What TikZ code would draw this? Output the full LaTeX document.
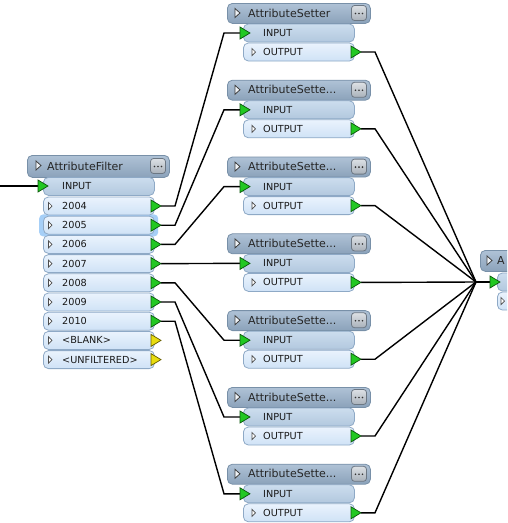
\documentclass[tikz,border=0pt]{standalone}
\usepackage{fontspec}
\setmainfont{DejaVu Sans}
\usetikzlibrary{calc}
\definecolor{hdrtop}{HTML}{AFC2D6}
\definecolor{hdrbot}{HTML}{8BA2BA}
\definecolor{hdrline}{HTML}{7890A8}
\definecolor{intop}{HTML}{CCDDEE}
\definecolor{inbot}{HTML}{B2C8DE}
\definecolor{outtop}{HTML}{EAF3FD}
\definecolor{outbot}{HTML}{CFE2F6}
\definecolor{rowline}{HTML}{8EA9C6}
\definecolor{btntop}{HTML}{DDE1E5}
\definecolor{btnbot}{HTML}{A9B1BA}
\definecolor{btnline}{HTML}{6C7783}
\definecolor{portgreen}{HTML}{22C822}
\definecolor{portdark}{HTML}{0E5A0E}
\definecolor{portyellow}{HTML}{E8DC10}
\definecolor{portydark}{HTML}{6A6000}
\definecolor{selblue}{HTML}{A6CFF7}
\tikzset{
  hdrbox/.style={draw=hdrline, line width=0.8pt, rounded corners=5pt, top color=hdrtop, bottom color=hdrbot, inner sep=0pt},
  inbox/.style={draw=rowline, line width=0.8pt, rounded corners=5pt, top color=intop, bottom color=inbot, inner sep=0pt},
  outbox/.style={draw=rowline, line width=0.8pt, rounded corners=5pt, top color=outtop, bottom color=outbot, inner sep=0pt},
  btnbox/.style={draw=btnline, line width=0.8pt, rounded corners=3pt, top color=btntop, bottom color=btnbot, inner sep=0pt, minimum width=15pt, minimum height=15pt},
  selbox/.style={fill=selblue, rounded corners=4pt, inner sep=0pt},
  wire/.style={draw=black, line width=1.4pt},
  hdrtxt/.style={anchor=west, font=\fontsize{11}{13}\selectfont, inner sep=0pt, text=black!85},
  rowtxt/.style={anchor=west, font=\fontsize{9.7}{11}\selectfont, inner sep=0pt, text=black!90},
  gport/.style={fill=portgreen, draw=portdark, line width=0.7pt},
  yport/.style={fill=portyellow, draw=portydark, line width=0.7pt},
  expmark/.style={draw=black!75, line width=0.8pt, fill=white!80!hdrtop},
  rowmark/.style={draw=black!70, line width=0.7pt, fill=white},
  btndot/.style={fill=black!80}
}
\begin{document}
\begin{tikzpicture}[x=1pt,y=-1pt]
\path[use as bounding box, clip] (0,0) rectangle (507,523);
\fill[white] (0,0) rectangle (507,523);

% ---------- AttributeFilter ----------
\node[hdrbox, minimum width=142pt, minimum height=22pt, anchor=north west] (fh) at (27,155) {};
\draw[expmark] (36,161) -- ++(5,4.5) -- ++(-5,4.5) -- cycle;
\node[hdrtxt] (fht) at (47,166) {AttributeFilter};
\node[btnbox] (fb) at (158,166) {};
\foreach \dx in {-3.5,0,3.5} \fill[btndot] ($(fb.center)+(\dx,0.5)$) circle (0.9pt);

\node[inbox, minimum width=111pt, minimum height=18pt, anchor=north west] (fin) at (43,177) {};
\node[rowtxt] (fint) at (62,186) {INPUT};
\coordinate (finp) at (38,186);

\node[selbox, minimum width=119pt, minimum height=22pt, anchor=north west] (fsel) at (39,214.2) {};

\foreach \i/\lab/\pc in {0/2004/g,1/2005/g,2/2006/g,3/2007/g,4/2008/g,5/2009/g,6/2010/g,7/{<BLANK>}/y,8/{<UNFILTERED>}/y} {
  \pgfmathsetmacro\yc{206+19.2*\i}
  \node[outbox, minimum width=111pt, minimum height=18pt, anchor=west] (fr\i) at (43,\yc) {};
  \draw[rowmark] (48.5,{\yc-3.5}) -- ++(3.5,3.5) -- ++(-3.5,3.5) -- cycle;
  \node[rowtxt] (fr\i t) at (62,\yc) {\lab};
  \coordinate (fr\i p) at (161,\yc);
}

% ---------- AttributeSetters ----------
\foreach \k in {0,...,6} {
  \pgfmathsetmacro\d{76.8*\k}
  \node[hdrbox, minimum width=143pt, minimum height=20pt, anchor=north west] (s\k h) at (227,{3+\d}) {};
  \draw[expmark] (235,{8.5+\d}) -- ++(5,4.5) -- ++(-5,4.5) -- cycle;
  \ifnum\k=0
    \node[hdrtxt] (s\k t) at (248,{13+\d}) {AttributeSetter};
  \else
    \node[hdrtxt] (s\k t) at (248,{13+\d}) {AttributeSette...};
  \fi
  \node[btnbox] (s\k b) at (359,{13+\d}) {};
  \foreach \dx in {-3.5,0,3.5} \fill[btndot] ($(s\k b.center)+(\dx,0.5)$) circle (0.9pt);
  \node[inbox, minimum width=111pt, minimum height=18pt, anchor=west] (s\k in) at (243,{33+\d}) {};
  \node[rowtxt] (s\k int) at (263,{33+\d}) {INPUT};
  \node[outbox, minimum width=111pt, minimum height=18pt, anchor=west] (s\k out) at (243,{52+\d}) {};
  \draw[rowmark] (252,{48.5+\d}) -- ++(3.5,3.5) -- ++(-3.5,3.5) -- cycle;
  \node[rowtxt] (s\k outt) at (263,{52+\d}) {OUTPUT};
  \coordinate (s\k inp) at (240,{33+\d});
  \coordinate (s\k outp) at (361,{52+\d});
}

% ---------- right node (cut off) ----------
\node[hdrbox, minimum width=60pt, minimum height=21pt, anchor=north west] (rh) at (480,250) {};
\draw[expmark] (487,256) -- ++(5,4.5) -- ++(-5,4.5) -- cycle;
\node[hdrtxt] (rht) at (497,260.5) {A};
\node[inbox, minimum width=50pt, minimum height=18pt, anchor=west] (rin) at (497,282) {};
\node[outbox, minimum width=50pt, minimum height=18pt, anchor=west] (rout) at (497,301) {};
\draw[rowmark] (501,{297.5}) -- ++(3.5,3.5) -- ++(-3.5,3.5) -- cycle;
\coordinate (rinp) at (490,282);
\coordinate (hub) at (476,282);
\coordinate (lft) at (0,186);

% ---------- wires ----------
\draw[wire] (lft) -- (finp);
\foreach \i in {0,...,6} {
  \draw[wire] (fr\i p) -- ++(14,0) -- ($(s\i inp)+(-16,0)$) -- (s\i inp);
  \draw[wire] (s\i outp) -- ++(14,0) -- (hub);
}
\draw[wire] (hub) -- (rinp);

% ---------- ports ----------
\draw[gport] (finp) ++(0,-6) -- ++(10,6) -- ++(-10,6) -- cycle;
\foreach \i in {0,...,6} {
  \draw[gport] (fr\i p) -- ++(-10,-6) -- ++(0,12) -- cycle;
  \draw[gport] (s\i inp) ++(0,-6) -- ++(10,6) -- ++(-10,6) -- cycle;
  \draw[gport] (s\i outp) -- ++(-10,-6) -- ++(0,12) -- cycle;
}
\foreach \i in {7,8} \draw[yport] (fr\i p) -- ++(-10,-6) -- ++(0,12) -- cycle;
\draw[gport] (rinp) ++(0,-6) -- ++(10,6) -- ++(-10,6) -- cycle;
\end{tikzpicture}
\end{document}
